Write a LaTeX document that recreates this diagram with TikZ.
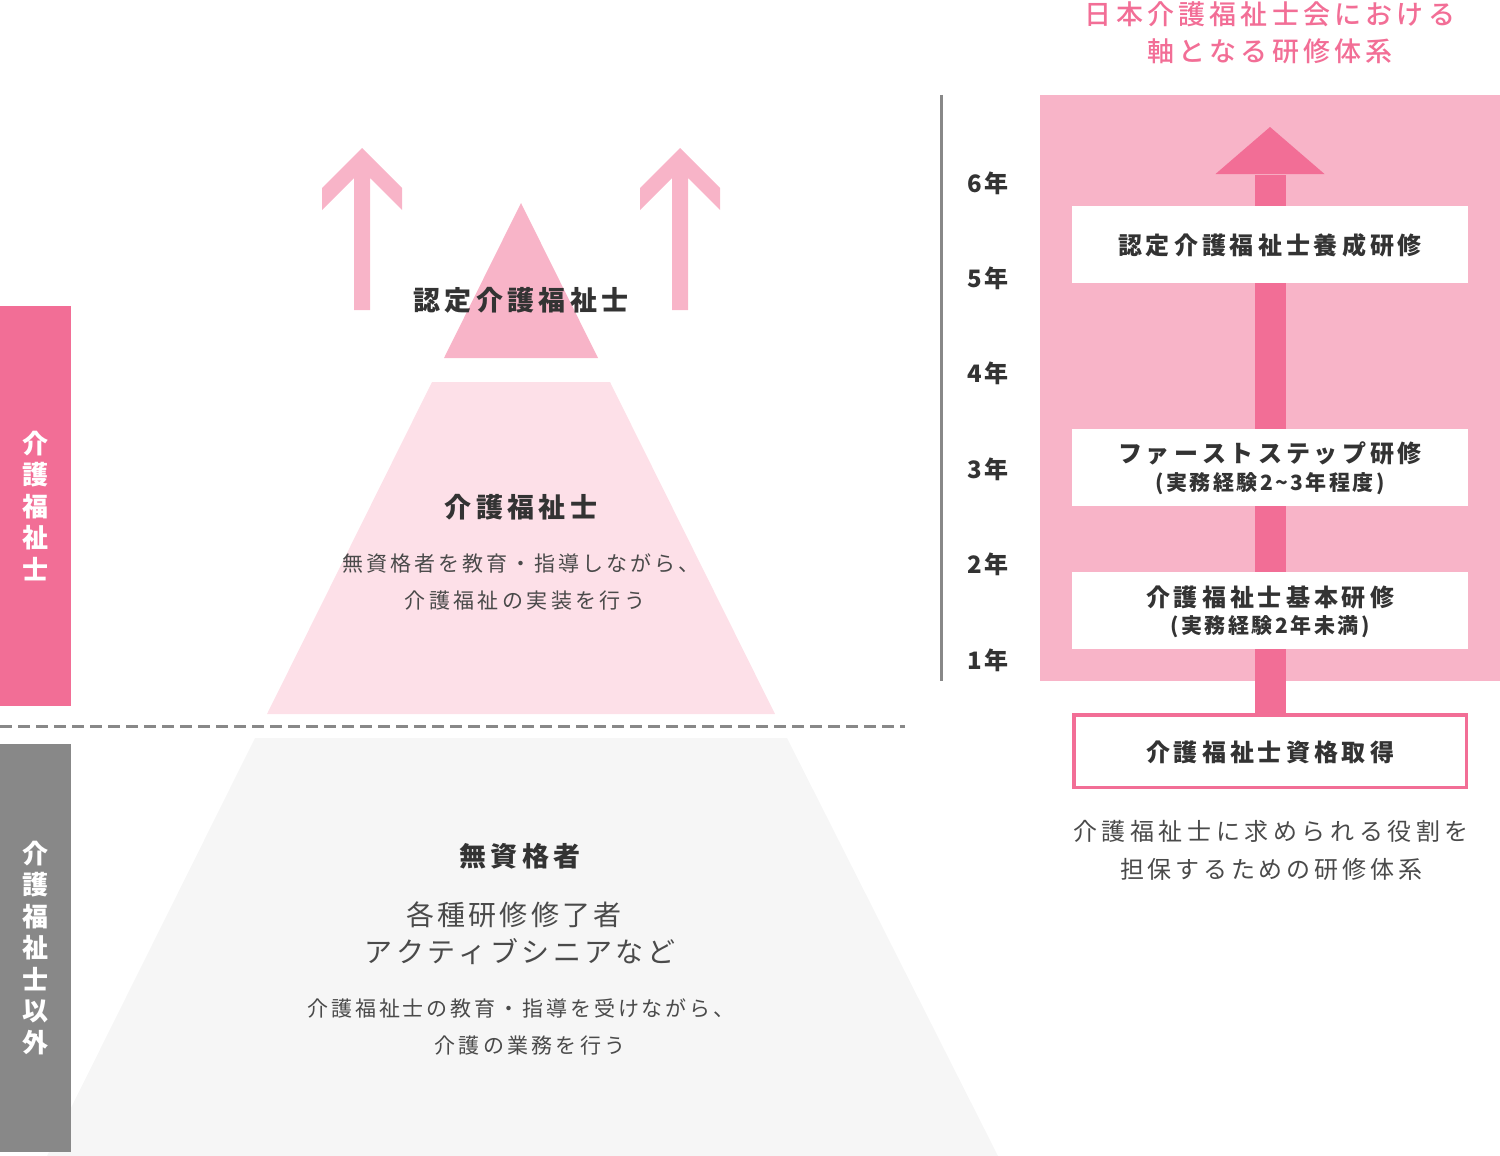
\documentclass[tikz,border=0pt]{standalone}
\usepackage{fontspec}
\newfontfamily\jp{Noto Sans CJK JP}
\newfontfamily\jpm{Noto Sans CJK JP Medium}
\definecolor{pinkdark}{HTML}{F26E96}
\definecolor{pinkmid}{HTML}{F8B4C8}
\definecolor{pinklight}{HTML}{FDE0E8}
\definecolor{graylight}{HTML}{F6F6F6}
\definecolor{graymid}{HTML}{888888}
\definecolor{txtdark}{HTML}{333333}
\definecolor{txtreg}{HTML}{4A4A4A}
\newdimen\lsamt
\def\ls#1#2{\lsamt=#1pt\relax\lsloop#2\relax\unkern}
\def\lsloop#1{\ifx#1\relax\else#1\kern\lsamt\expandafter\lsloop\fi}
\def\tl{\char"7E\relax}
\pgfdeclarelayer{bg}
\pgfdeclarelayer{mid}
\pgfsetlayers{bg,mid,main}
\tikzset{
  head/.style={inner sep=0pt, text=txtdark, font={\jp\bfseries\fontsize{27}{32}\selectfont}},
  body/.style={inner sep=0pt, text=txtreg, font={\jp\fontsize{21}{26}\selectfont}},
  bodybig/.style={inner sep=0pt, text=txtreg, font={\jp\fontsize{28}{33}\selectfont}},
  sidebar/.style={inner sep=0pt, minimum width=71pt, text=white, align=center,
    font={\jp\bfseries\fontsize{26}{31.5}\selectfont}},
  year/.style={inner sep=0pt, text=txtdark, font={\jp\bfseries\fontsize{24}{28}\selectfont}},
  wbox/.style={fill=white, inner sep=0pt, minimum width=396pt, minimum height=77pt},
  qbox/.style={fill=white, draw=pinkdark, line width=3.5pt, inner sep=0pt,
    minimum width=392.5pt, minimum height=72.5pt},
  btxt/.style={inner sep=0pt, text=txtdark, font={\jp\bfseries\fontsize{24}{28}\selectfont}},
  bsub/.style={inner sep=0pt, text=txtdark, font={\jp\bfseries\fontsize{21}{25}\selectfont}},
  ttl/.style={inner sep=0pt, text=pinkdark, font={\jpm\fontsize{27}{32}\selectfont}},
  capt/.style={inner sep=0pt, text=txtreg, font={\jp\fontsize{24}{28}\selectfont}},
  uparrow/.style={fill=pinkmid},
}
\begin{document}
\begin{tikzpicture}[x=1pt,y=-1pt]
\useasboundingbox (0,0) rectangle (1500,1156);
% ---------- pyramid ----------
\fill[graylight] (255,738) -- (787,738) -- (998,1156) -- (47,1156) -- cycle;
\fill[pinklight] (432,382) -- (610,382) -- (775,714) -- (267,714) -- cycle;
\fill[pinkmid] (521,203) -- (598,358) -- (444,358) -- cycle;
% up arrows
\fill[uparrow] (362,148) -- (402,188) -- (402,210) -- (370,178) -- (370,310)
  -- (354,310) -- (354,178) -- (322,210) -- (322,188) -- cycle;
\fill[uparrow] (680,148) -- (720,188) -- (720,210) -- (688,178) -- (688,310)
  -- (672,310) -- (672,178) -- (640,210) -- (640,188) -- cycle;
% divider
\draw[graymid, line width=3pt, dash pattern=on 12pt off 6pt] (0,726) -- (905,726);
% side bars
\node[sidebar, fill=pinkdark, minimum height=400pt] (bar1) at (35.5,506)
  {介\\護\\福\\祉\\士};
\node[sidebar, fill=graymid, minimum height=408pt] (bar2) at (35.5,948)
  {介\\護\\福\\祉\\士\\以\\外};
% pyramid texts
\node[head] (t1) at (521,300) {\ls{4.3}{認定介護福祉士}};
\node[head] (t2) at (521,507) {\ls{4.3}{介護福祉士}};
\node[body] (t2a) at (521,563) {\ls{3}{無資格者を教育・指導しながら、}};
\node[body] (t2b) at (525,601) {\ls{3.4}{介護福祉の実装を行う}};
\node[head] (t3) at (520,856) {\ls{4.3}{無資格者}};
\node[bodybig] (t3a) at (514,915) {\ls{3.3}{各種研修修了者}};
\node[bodybig] (t3b) at (520,952) {\ls{3.4}{アクティブシニアなど}};
\node[body] (t3c) at (521,1008) {\ls{2.9}{介護福祉士の教育・指導を受けながら、}};
\node[body] (t3d) at (530,1046) {\ls{3.3}{介護の業務を行う}};
% ---------- right side ----------
\draw[graymid, line width=3pt] (941,95) -- (941,681);
\node[year] (y6) at (988,183) {\ls{3}{6年}};
\node[year] (y5) at (988,278) {\ls{3}{5年}};
\node[year] (y4) at (988,373) {\ls{3}{4年}};
\node[year] (y3) at (988,469) {\ls{3}{3年}};
\node[year] (y2) at (988,564) {\ls{3}{2年}};
\node[year] (y1) at (988,660) {\ls{3}{1年}};
\begin{pgfonlayer}{bg}
\fill[pinkmid] (1040,95) rectangle (1500,681);
\end{pgfonlayer}
\node[ttl] (ti1) at (1270,14) {\ls{4.2}{日本介護福祉士会における}};
\node[ttl] (ti2) at (1270,51) {\ls{4.2}{軸となる研修体系}};
\node[wbox] (b1) at (1270,244.5) {};
\node[btxt] (b1t) at (1270,245) {\ls{4}{認定介護福祉士養成研修}};
\node[wbox] (b2) at (1270,467.5) {};
\node[btxt] (b2t) at (1270,453) {\ls{4}{ファーストステップ研修}};
\node[bsub] (b2s) at (1270,484) {\ls{2.5}{(実務経験2\tl3年程度)}};
\node[wbox] (b3) at (1270,610.5) {};
\node[btxt] (b3t) at (1270,597) {\ls{4}{介護福祉士基本研修}};
\node[bsub] (b3s) at (1270,627) {\ls{2.5}{(実務経験2年未満)}};
\node[qbox] (q) at (1270,751) {};
\node[btxt] (qt) at (1270,752) {\ls{4}{介護福祉士資格取得}};
\node[capt] (c1) at (1271,831) {\ls{4.6}{介護福祉士に求められる役割を}};
\node[capt] (c2) at (1271,869) {\ls{3.8}{担保するための研修体系}};
\coordinate (tip) at (1270,127);
\coordinate (hb) at (1270,175);
\begin{pgfonlayer}{mid}
\draw[pinkdark, line width=31pt] (q.north) -- (hb);
\fill[pinkdark] (tip) -- (1324.5,174) -- (1215.5,174) -- cycle;
\end{pgfonlayer}
\end{tikzpicture}
\end{document}
